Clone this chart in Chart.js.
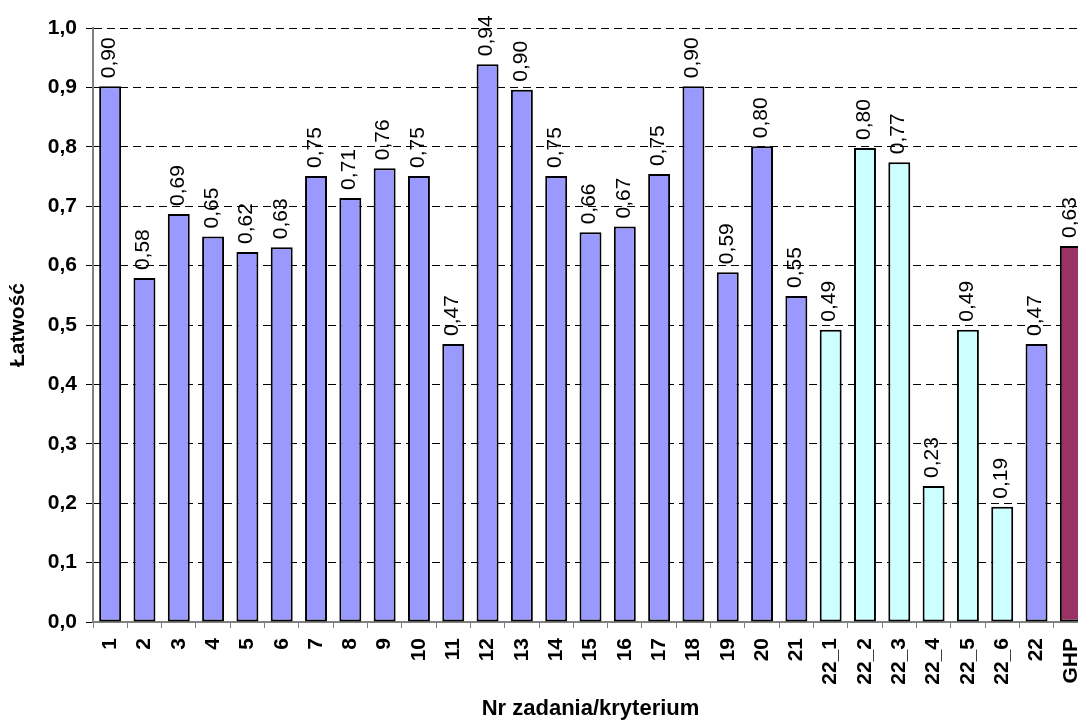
<!DOCTYPE html>
<html>
<head>
<meta charset="utf-8">
<script src="https://cdn.jsdelivr.net/npm/chart.js@4.4.0/dist/chart.umd.min.js"></script>
<style>
  html, body { margin: 0; padding: 0; background: #fff; overflow: hidden; }
  #wrap { width: 1100px; height: 722px; }
</style>
</head>
<body>
<div id="wrap"><canvas id="myChart" width="1100" height="722"></canvas></div>
<script>
const categories = ["1", "2", "3", "4", "5", "6", "7", "8", "9", "10",
  "11", "12", "13", "14", "15", "16", "17", "18", "19", "20", "21",
  "22_1", "22_2", "22_3", "22_4", "22_5", "22_6", "22", "GHP"];
const easiness = [0.902, 0.579, 0.687, 0.649, 0.623, 0.631, 0.751, 0.714, 0.764, 0.751,
  0.468, 0.939, 0.896, 0.751, 0.656, 0.666, 0.754, 0.902, 0.589, 0.801, 0.549,
  0.492, 0.798, 0.774, 0.229, 0.492, 0.194, 0.468, 0.633];
const yTicks = [0, 0.1, 0.2, 0.3, 0.4, 0.5, 0.6, 0.7, 0.8, 0.9, 1.0];

const FONT = "'Liberation Sans', Arial, sans-serif";

const colorFor = (cat) => {
  if (cat === "GHP") return "#993366";
  if (cat.indexOf("_") > -1) return "#CCFFFF";
  return "#9999FF";
};

// value labels written upwards above each bar
const barLabels = {
  id: "barLabels",
  afterDatasetsDraw(chart) {
    const ctx = chart.ctx;
    const meta = chart.getDatasetMeta(0);
    ctx.save();
    ctx.font = "21px " + FONT;
    ctx.fillStyle = "#000";
    ctx.textAlign = "left";
    ctx.textBaseline = "middle";
    meta.data.forEach((bar, i) => {
      const txt = easiness[i].toFixed(2).replace(".", ",");
      ctx.save();
      ctx.translate(bar.x - 1, bar.y - 8);
      ctx.rotate(-Math.PI / 2);
      ctx.fillText(txt, 0, 0);
      ctx.restore();
    });
    ctx.restore();
  },
};

const config = {
  type: "bar",
  data: {
    labels: categories,
    datasets: [
      {
        data: easiness,
        backgroundColor: categories.map(colorFor),
        borderColor: "#000",
        borderWidth: 2,
        borderSkipped: false,
        barPercentage: 0.64,
        categoryPercentage: 1.0,
      },
    ],
  },
  options: {
    responsive: false,
    animation: false,
    devicePixelRatio: 1,
    layout: { padding: { top: 28, right: 12, left: 0, bottom: 0 } },
    plugins: {
      legend: { display: false },
      tooltip: { enabled: false },
    },
    scales: {
      x: {
        afterFit: (scale) => {
          scale.height = 100;
          scale.paddingLeft = 0;
          scale.paddingRight = 0;
        },
        grid: {
          offset: true,
          drawOnChartArea: false,
          drawTicks: true,
          tickLength: 6,
          color: "#808080",
        },
        border: { color: "#808080", width: 2 },
        ticks: {
          autoSkip: false,
          maxRotation: 90,
          minRotation: 90,
          padding: 10,
          color: "#000",
          font: { family: FONT, size: 21, weight: "bold" },
        },
        title: {
          display: true,
          text: "Nr zadania/kryterium",
          color: "#000",
          font: { family: FONT, size: 22, weight: "bold" },
          padding: { top: 1, bottom: 0 },
        },
      },
      y: {
        min: 0,
        max: 1,
        afterFit: (scale) => { scale.width = 93; },
        afterBuildTicks: (scale) => {
          scale.ticks = yTicks.map((v) => ({ value: v }));
        },
        grid: {
          color: "#000",
          lineWidth: 1,
          tickLength: 7,
          tickColor: "#000",
          tickBorderDash: [],
        },
        border: { color: "#808080", width: 2, dash: [8, 5] },
        ticks: {
          padding: 9,
          color: "#000",
          font: { family: FONT, size: 21, weight: "bold" },
          callback: (val) => Number(val).toFixed(1).replace(".", ","),
        },
        title: {
          display: true,
          text: "Łatwość",
          color: "#000",
          font: { family: FONT, size: 21, weight: "bold" },
          padding: { top: 6, bottom: 0 },
        },
      },
    },
  },
  plugins: [barLabels],
};

const myChart = new Chart(document.getElementById("myChart"), config);
</script>
</body>
</html>
